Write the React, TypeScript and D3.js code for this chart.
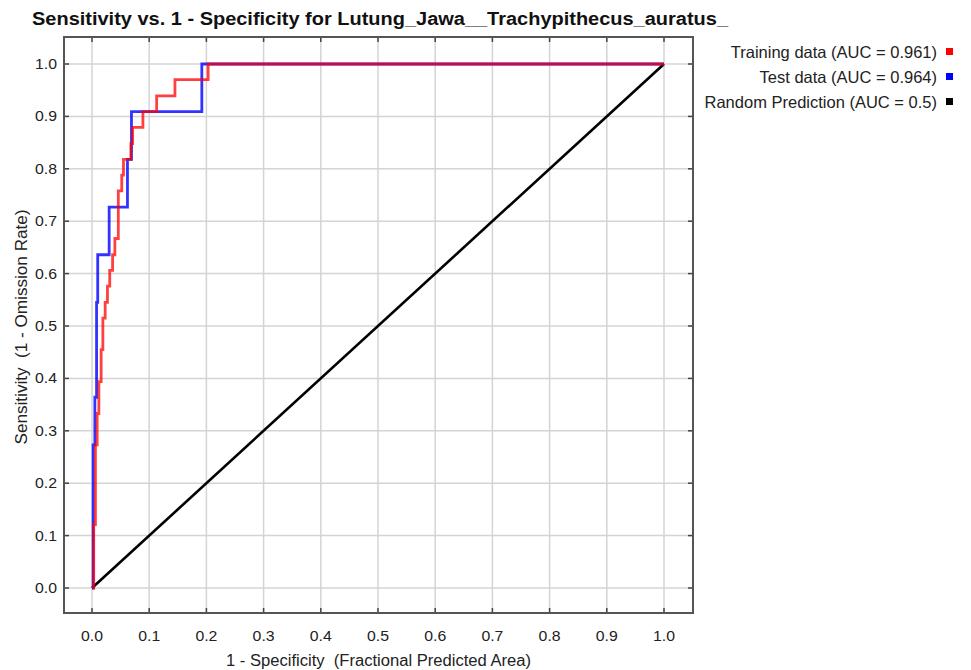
import React, { useEffect, useRef } from "react";
import * as d3 from "d3";

// ROC points (stepAfter corners: top of each vertical rise)
const trainFpr = [0, 0.003, 0.006, 0.009, 0.012, 0.016, 0.019, 0.023, 0.027, 0.031, 0.036, 0.040, 0.046, 0.052, 0.055, 0.068, 0.071, 0.089, 0.113, 0.145, 0.203, 1.0];
const trainTpr = [0, 0.121, 0.273, 0.333, 0.394, 0.455, 0.515, 0.545, 0.576, 0.606, 0.636, 0.667, 0.758, 0.788, 0.818, 0.848, 0.879, 0.909, 0.939, 0.970, 1.0, 1.0];

const testFpr = [0, 0.002, 0.005, 0.008, 0.010, 0.030, 0.062, 0.069, 0.192, 1.0];
const testTpr = [0, 0.273, 0.364, 0.545, 0.636, 0.727, 0.818, 0.909, 1.0, 1.0];

const randomFpr = [0, 1];
const randomTpr = [0, 1];

const ticks = [0, 0.1, 0.2, 0.3, 0.4, 0.5, 0.6, 0.7, 0.8, 0.9, 1.0];

const legendLabels = ["Training data (AUC = 0.961)", "Test data (AUC = 0.964)", "Random Prediction (AUC = 0.5)"];
const legendColors = ["#ff0000", "#0000ff", "#000000"];

const W = 971;
const H = 670;
const box = { left: 64, right: 693, top: 37, bottom: 613 };
const FONT = "'Liberation Sans', Arial, sans-serif";

const App = () => {
  const ref = useRef<SVGSVGElement>(null);

  useEffect(() => {
    const svg = d3.select(ref.current);
    svg.selectAll("*").remove();

    const x = d3.scaleLinear().domain([0, 1]).range([92, 664]);
    const y = d3.scaleLinear().domain([0, 1]).range([588, 64]);

    svg.append("rect").attr("width", W).attr("height", H).attr("fill", "#fff");

    // grid
    const g = svg.append("g");
    g.selectAll("line.gx")
      .data(ticks)
      .join("line")
      .attr("x1", d => x(d)).attr("x2", d => x(d))
      .attr("y1", box.top).attr("y2", box.bottom)
      .attr("stroke", "#d4d4d4").attr("stroke-width", 1.5);
    g.selectAll("line.gy")
      .data(ticks)
      .enter()
      .append("line")
      .attr("y1", d => y(d)).attr("y2", d => y(d))
      .attr("x1", box.left).attr("x2", box.right)
      .attr("stroke", "#d4d4d4").attr("stroke-width", 1.5);

    // inner ticks
    const tk = svg.append("g").attr("stroke", "#444").attr("stroke-width", 1.5);
    ticks.forEach(t => {
      tk.append("line").attr("x1", x(t)).attr("x2", x(t)).attr("y1", box.top).attr("y2", box.top + 5);
      tk.append("line").attr("x1", x(t)).attr("x2", x(t)).attr("y1", box.bottom).attr("y2", box.bottom - 5);
      tk.append("line").attr("y1", y(t)).attr("y2", y(t)).attr("x1", box.left).attr("x2", box.left + 5);
      tk.append("line").attr("y1", y(t)).attr("y2", y(t)).attr("x1", box.right).attr("x2", box.right - 5);
    });

    const line = d3.line<[number, number]>()
      .x(d => x(d[0]))
      .y(d => y(d[1]));

    const stepLine = d3.line<[number, number]>()
      .x(d => x(d[0]))
      .y(d => y(d[1]))
      .curve(d3.curveStepAfter);

    svg.append("path")
      .attr("d", line(d3.zip(randomFpr, randomTpr) as [number, number][]))
      .attr("fill", "none").attr("stroke", "#000").attr("stroke-width", 2.6);

    svg.append("path")
      .attr("d", stepLine(d3.zip(testFpr, testTpr) as [number, number][]))
      .attr("fill", "none").attr("stroke", "#0000ff").attr("stroke-opacity", 0.8).attr("stroke-width", 2.8);

    svg.append("path")
      .attr("d", stepLine(d3.zip(trainFpr, trainTpr) as [number, number][]))
      .attr("fill", "none").attr("stroke", "#ff0000").attr("stroke-opacity", 0.75).attr("stroke-width", 2.8);

    // frame
    svg.append("rect")
      .attr("x", box.left).attr("y", box.top)
      .attr("width", box.right - box.left).attr("height", box.bottom - box.top)
      .attr("fill", "none").attr("stroke", "#555").attr("stroke-width", 2);

    // tick labels
    svg.append("g").selectAll("text")
      .data(ticks)
      .join("text")
      .attr("x", d => x(d)).attr("y", 641)
      .attr("text-anchor", "middle")
      .attr("font-family", FONT).attr("font-size", 15).attr("fill", "#222")
      .attr("textLength", 22).attr("lengthAdjust", "spacingAndGlyphs")
      .text(d => d.toFixed(1));

    svg.append("g").selectAll("text")
      .data(ticks)
      .join("text")
      .attr("x", 57).attr("y", d => y(d) + 5)
      .attr("text-anchor", "end")
      .attr("font-family", FONT).attr("font-size", 15).attr("fill", "#222")
      .attr("textLength", 22).attr("lengthAdjust", "spacingAndGlyphs")
      .text(d => d.toFixed(1));

    // axis titles
    svg.append("text")
      .attr("x", (box.left + box.right) / 2).attr("y", 666)
      .attr("text-anchor", "middle")
      .attr("font-family", FONT).attr("font-size", 16).attr("fill", "#222")
      .attr("xml:space", "preserve")
      .attr("textLength", 305).attr("lengthAdjust", "spacingAndGlyphs")
      .text("1 - Specificity  (Fractional Predicted Area)");

    svg.append("text")
      .attr("transform", `translate(27,${(box.top + box.bottom) / 2 + 2}) rotate(-90)`)
      .attr("text-anchor", "middle")
      .attr("font-family", FONT).attr("font-size", 16).attr("fill", "#222")
      .attr("xml:space", "preserve")
      .attr("textLength", 235).attr("lengthAdjust", "spacingAndGlyphs")
      .text("Sensitivity  (1 - Omission Rate)");

    svg.append("text")
      .attr("x", 380).attr("y", 25)
      .attr("text-anchor", "middle")
      .attr("font-family", FONT).attr("font-size", 18).attr("font-weight", "bold").attr("fill", "#111")
      .attr("textLength", 696).attr("lengthAdjust", "spacingAndGlyphs")
      .text("Sensitivity vs. 1 - Specificity for Lutung_Jawa__Trachypithecus_auratus_");

    // legend
    const lg = svg.append("g");
    legendLabels.forEach((lab, i) => {
      const ly = 52 + i * 25;
      lg.append("text")
        .attr("x", 937).attr("y", ly + 6)
        .attr("text-anchor", "end")
        .attr("font-family", FONT).attr("font-size", 16.5).attr("fill", "#222")
        .text(lab);
      lg.append("rect")
        .attr("x", 946).attr("y", ly - 4).attr("width", 7).attr("height", 7)
        .attr("fill", legendColors[i]);
    });
  }, []);

  return (
    <svg ref={ref} width={W} height={H} style={{ position: "absolute", left: 0, top: 0 }} />
  );
};

export default App;
